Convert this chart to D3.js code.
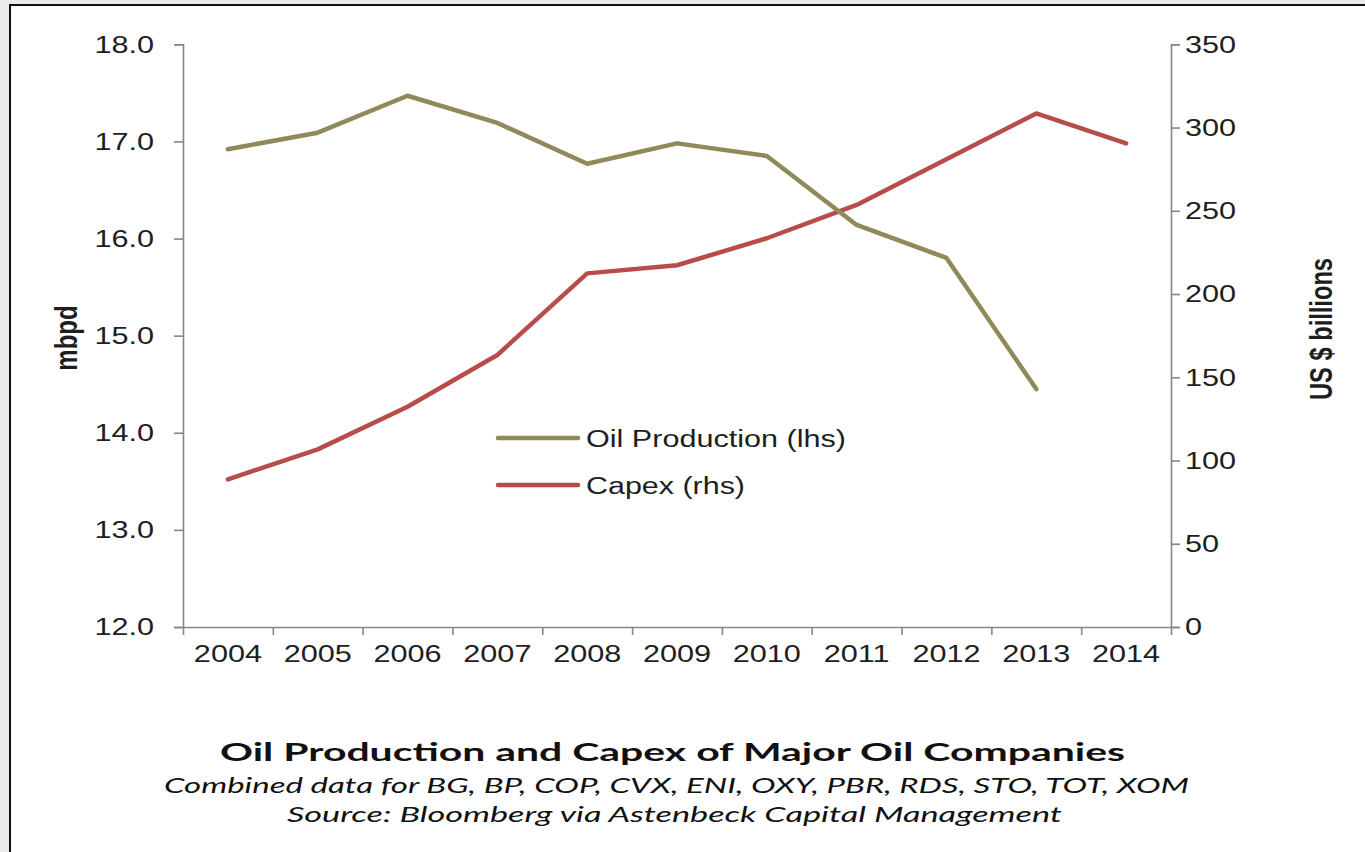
<!DOCTYPE html>
<html>
<head>
<meta charset="utf-8">
<script src="https://cdn.jsdelivr.net/npm/d3@7"></script>
<style>
  html, body { margin: 0; padding: 0; background: #ebebeb; }
  svg { display: block; }
</style>
</head>
<body>
<svg id="chart" width="1365" height="852"></svg>
<script>
// Categories and series
const years = ['2004','2005','2006','2007','2008','2009','2010','2011','2012','2013','2014'];
const oilProduction = [16.92, 17.09, 17.47, 17.19, 16.77, 16.98, 16.85, 16.14, 15.80, 14.45, null]; // mbpd
const capex = [88.7, 106.7, 132.3, 163.4, 212.4, 217.3, 233.5, 253.5, 281.0, 308.5, 290.5];        // US$ bn

const leftTicks = [12, 13, 14, 15, 16, 17, 18];
const rightTicks = [0, 50, 100, 150, 200, 250, 300, 350];

const seriesNames = ['Oil Production (lhs)', 'Capex (rhs)'];
const titleText = 'Oil Production and Capex of Major Oil Companies';
const subtitleText = 'Combined data for BG, BP, COP, CVX, ENI, OXY, PBR, RDS, STO, TOT, XOM';
const sourceText = 'Source: Bloomberg via Astenbeck Capital Management';

const OIL_COLOR = '#8f8a5a';
const CAPEX_COLOR = '#b84c4b';
const AXIS_COLOR = '#868686';
const TEXT_COLOR = '#1e1e1e';
const SX = 1.25;  // horizontal stretch of the axis lettering

const svg = d3.select('#chart');

// white panel with dark frame
svg.append('rect')
  .attr('x', 10).attr('y', 5).attr('width', 1400).attr('height', 900)
  .attr('fill', '#ffffff').attr('stroke', '#111').attr('stroke-width', 2);

const plot = { left: 183, right: 1171, top: 44.3, bottom: 627 };

const x = d3.scaleBand().domain(years).range([plot.left, plot.right]);
const xEdges = d3.scaleLinear().domain([0, years.length]).range([plot.left, plot.right]);
const yL = d3.scaleLinear().domain([12, 18]).range([plot.bottom, plot.top]);
const yR = d3.scaleLinear().domain([0, 350]).range([plot.bottom, plot.top]);

const axisFont = '"Liberation Sans", Arial, sans-serif';
const narrowFont = '"Liberation Sans Narrow", "Arial Narrow", "Liberation Sans", sans-serif';

function styleAxis(g) {
  g.selectAll('path.domain').attr('stroke', AXIS_COLOR).attr('stroke-width', 1.6);
  g.selectAll('.tick line').attr('stroke', AXIS_COLOR).attr('stroke-width', 1.6);
  g.selectAll('.tick text')
    .attr('fill', TEXT_COLOR)
    .style('font-family', axisFont)
    .style('font-size', '24.5px');
}

// left axis
const gL = svg.append('g').attr('transform', `translate(${plot.left},0)`)
  .call(d3.axisLeft(yL).tickValues(leftTicks).tickFormat(d3.format('.1f')).tickSize(9).tickSizeOuter(9));
styleAxis(gL);
gL.selectAll('.tick text').attr('x', -29 / SX).attr('transform', `scale(${SX},1)`);

// right axis
const gR = svg.append('g').attr('transform', `translate(${plot.right},0)`)
  .call(d3.axisRight(yR).tickValues(rightTicks).tickFormat(d3.format('d')).tickSize(9).tickSizeOuter(9));
styleAxis(gR);
gR.selectAll('.tick text').attr('x', 14 / SX).attr('transform', `scale(${SX},1)`);

// bottom axis: tick marks on category boundaries
const gB = svg.append('g').attr('transform', `translate(0,${plot.bottom})`)
  .call(d3.axisBottom(xEdges).ticks(years.length).tickFormat('').tickSize(8).tickSizeOuter(0));
styleAxis(gB);

// bottom axis: year labels centred in each category
const gBL = svg.append('g').attr('transform', `translate(0,${plot.bottom})`)
  .call(d3.axisBottom(x).tickSize(0).tickPadding(18));
gBL.select('path.domain').remove();
styleAxis(gBL);
gBL.selectAll('.tick text').attr('transform', `scale(${SX},1)`);

// axis titles
svg.append('text')
  .attr('transform', `translate(77,338) scale(1.3,1) rotate(-90)`)
  .attr('text-anchor', 'middle')
  .attr('fill', TEXT_COLOR)
  .style('font-family', narrowFont).style('font-weight', 'bold').style('font-size', '24px')
  .text('mbpd');

svg.append('text')
  .attr('transform', `translate(1332,329) scale(1.3,1) rotate(-90)`)
  .attr('text-anchor', 'middle')
  .attr('textLength', 142).attr('lengthAdjust', 'spacingAndGlyphs')
  .attr('fill', TEXT_COLOR)
  .style('font-family', narrowFont).style('font-weight', 'bold').style('font-size', '24px')
  .text('US $ billions');

// series lines
const lineL = d3.line()
  .defined(d => d.v != null)
  .x(d => x(d.year) + x.bandwidth() / 2)
  .y(d => yL(d.v));
const lineR = d3.line()
  .x(d => x(d.year) + x.bandwidth() / 2)
  .y(d => yR(d.v));

svg.append('path')
  .datum(years.map((year, i) => ({ year, v: capex[i] })))
  .attr('d', lineR)
  .attr('fill', 'none').attr('stroke', CAPEX_COLOR)
  .attr('stroke-width', 4.5).attr('stroke-linejoin', 'round').attr('stroke-linecap', 'round');

svg.append('path')
  .datum(years.map((year, i) => ({ year, v: oilProduction[i] })))
  .attr('d', lineL)
  .attr('fill', 'none').attr('stroke', OIL_COLOR)
  .attr('stroke-width', 4.5).attr('stroke-linejoin', 'round').attr('stroke-linecap', 'round');

// legend
const legend = [
  { name: seriesNames[0], color: OIL_COLOR, y: 438, len: 260 },
  { name: seriesNames[1], color: CAPEX_COLOR, y: 485, len: 159 }
];
const lg = svg.append('g');
lg.selectAll('line').data(legend).join('line')
  .attr('x1', 498).attr('x2', 578)
  .attr('y1', d => d.y).attr('y2', d => d.y)
  .attr('stroke', d => d.color).attr('stroke-width', 4.5).attr('stroke-linecap', 'round');
lg.selectAll('text').data(legend).join('text')
  .attr('x', 586).attr('y', d => d.y + 8.5)
  .attr('textLength', d => d.len).attr('lengthAdjust', 'spacingAndGlyphs')
  .attr('fill', TEXT_COLOR)
  .style('font-family', axisFont).style('font-size', '23px')
  .text(d => d.name);

// title block
const titleFont = 'Lato, "Open Sans", sans-serif';
svg.append('text')
  .attr('x', 220).attr('y', 761)
  .attr('textLength', 905).attr('lengthAdjust', 'spacingAndGlyphs')
  .attr('fill', '#111')
  .style('font-family', titleFont).style('font-weight', 'bold').style('font-size', '25px')
  .text(titleText);
svg.append('text')
  .attr('x', 164).attr('y', 793)
  .attr('textLength', 1025).attr('lengthAdjust', 'spacingAndGlyphs')
  .attr('fill', '#111')
  .style('font-family', titleFont).style('font-style', 'italic').style('font-size', '22px')
  .text(subtitleText);
svg.append('text')
  .attr('x', 287).attr('y', 822)
  .attr('textLength', 775).attr('lengthAdjust', 'spacingAndGlyphs')
  .attr('fill', '#111')
  .style('font-family', titleFont).style('font-style', 'italic').style('font-size', '22px')
  .text(sourceText);
</script>
</body>
</html>
